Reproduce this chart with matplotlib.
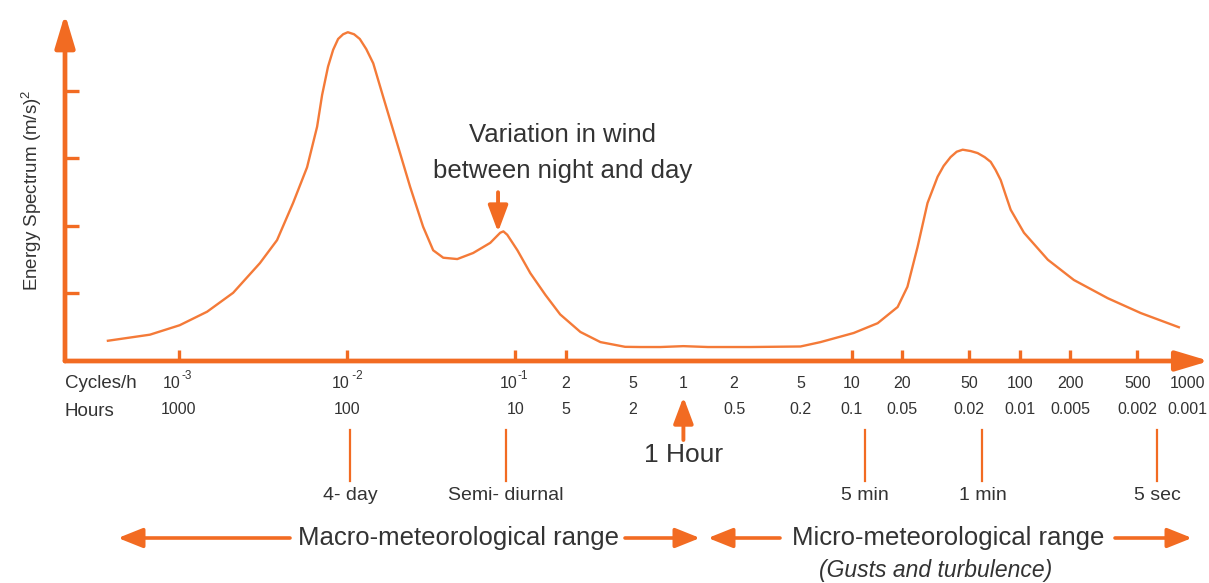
import matplotlib
matplotlib.use('Agg')
import matplotlib.pyplot as plt
from matplotlib import transforms
from matplotlib.patches import FancyArrowPatch

plt.rcParams['font.family'] = ['Liberation Sans', 'DejaVu Sans']
plt.rcParams['mathtext.fontset'] = 'custom'
plt.rcParams['mathtext.rm'] = 'Liberation Sans'

orange = '#f26b22'
curve_col = '#f47a38'
ink = '#333333'

# wind energy spectrum (cycles per hour, arbitrary energy)
freq = [3.78e-4, 6.72e-4, 1.01e-3, 1.47e-3, 2.10e-3, 3.03e-3, 3.83e-3, 4.77e-3,
        5.78e-3, 6.63e-3, 7.10e-3, 7.70e-3, 8.26e-3, 8.84e-3, 9.47e-3, 1.01e-2,
        1.10e-2, 1.19e-2, 1.30e-2, 1.43e-2, 1.64e-2, 1.98e-2, 2.37e-2, 2.83e-2,
        3.25e-2, 3.73e-2, 4.52e-2, 5.62e-2, 7.10e-2, 8.14e-2, 8.5e-2, 8.96e-2,
        0.103, 0.123, 0.151, 0.185, 0.244, 0.321, 0.45, 0.555, 0.73, 1.0, 1.4,
        2.5, 4.97, 6.54, 10.3, 14.3, 18.8, 21.5, 24.7, 28.3, 32.5, 35.3, 38.8,
        42.2, 45.8, 51.1, 56.2, 61.9, 67.2, 71.9, 77.1, 82.5, 88.4, 106, 147,
        210, 334, 525, 884]
energy = [0.30, 0.39, 0.53, 0.73, 1.01, 1.45, 1.79, 2.34,
          2.87, 3.47, 3.94, 4.36, 4.61, 4.77, 4.84, 4.87,
          4.84, 4.77, 4.62, 4.41, 3.91, 3.23, 2.58, 1.99,
          1.64, 1.53, 1.51, 1.60, 1.75, 1.90, 1.92, 1.87,
          1.64, 1.30, 0.98, 0.69, 0.43, 0.28, 0.21, 0.207, 0.207, 0.22, 0.207,
          0.207, 0.215, 0.28, 0.415, 0.56, 0.80, 1.10, 1.69, 2.34, 2.73, 2.89, 3.02,
          3.10, 3.13, 3.11, 3.08, 3.02, 2.95, 2.83, 2.68, 2.46, 2.24, 1.90, 1.50,
          1.20, 0.93, 0.71, 0.50]

tick_freq = [1e-3, 1e-2, 1e-1, 0.2, 10, 20, 50, 100, 200, 500]
energy_ticks = [1, 2, 3, 4]

# cycles/h row: (base, exponent); exponent empty for plain numbers
label_freq = [1e-3, 1e-2, 1e-1, 0.2, 0.5, 1, 2, 5, 10, 20, 50, 100, 200, 500, 1000]
cycle_labels = [('10', '-3'), ('10', ' -2'), ('10', '-1'), ('2', ''), ('5', ''),
                ('1', ''), ('2', ''), ('5', ''), ('10', ''), ('20', ''), ('50', ''),
                ('100', ''), ('200', ''), ('500', ''), ('1000', '')]
hour_labels = ['1000', '100', '10', '5', '2', '', '0.5', '0.2', '0.1', '0.05',
               '0.02', '0.01', '0.005', '0.002', '0.001']

period_freq = [0.0104, 0.088, 12, 60, 660]
period_labels = ['4- day', 'Semi- diurnal', '5 min', '1 min', '5 sec']

W, H = 1209, 583


def fy(py):
    # figure fraction from a pixel row counted from the top
    return 1 - py / H


fig = plt.figure(figsize=(W / 100, H / 100), dpi=100)
ax = fig.add_axes([65 / W, fy(361), (1207 - 65) / W, (361 - 14) / H])
ax.set_xscale('log')

ax.plot(freq, energy, color=curve_col, lw=1.7, solid_joinstyle='round')

ax.set_xlim(2.1e-4, 1.3e3)
ax.set_ylim(0, 5.14)
for s in ax.spines.values():
    s.set_visible(False)
ax.minorticks_off()
ax.set_xticks(tick_freq)
ax.set_xticklabels([])
ax.set_yticks(energy_ticks)
ax.set_yticklabels([])
ax.tick_params(axis='x', direction='in', length=8, width=2.4, color=orange)
ax.tick_params(axis='y', direction='in', length=10, width=2.4, color=orange)

axis_arrow = dict(arrowstyle='-|>,head_length=2.0,head_width=0.6', color=orange,
                  lw=3.4, shrinkA=0, shrinkB=0)
ax.annotate('', xy=(0, 1), xytext=(0, 0), xycoords='axes fraction',
            arrowprops=axis_arrow, annotation_clip=False)
ax.annotate('', xy=(1.002, 0), xytext=(0, 0), xycoords='axes fraction',
            arrowprops=axis_arrow, annotation_clip=False)

fig.text(32 / W, fy(190), 'Energy Spectrum (m/s)$^2$', rotation=90, fontsize=13.5,
         color=ink, ha='center', va='center')

# labels under the axis
trans = transforms.blended_transform_factory(ax.transData, fig.transFigure)
fig.text(65 / W, fy(383), 'Cycles/h', fontsize=13.5, color=ink, va='center')
fig.text(65 / W, fy(411), 'Hours', fontsize=13.5, color=ink, va='center')
for f, (base, expo), h in zip(label_freq, cycle_labels, hour_labels):
    if expo:
        ax.annotate(base, xy=(f, fy(383)), xycoords=trans, xytext=(-5, 0),
                    textcoords='offset points', ha='center', va='center',
                    fontsize=11.5, color=ink, annotation_clip=False)
        ax.annotate(expo, xy=(f, fy(383)), xycoords=trans, xytext=(1.5, 5),
                    textcoords='offset points', ha='left', va='center',
                    fontsize=8.5, color=ink, annotation_clip=False)
    else:
        ax.text(f, fy(383), base, transform=trans, ha='center', va='center',
                fontsize=11.5, color=ink, clip_on=False)
    ax.text(f, fy(410), h, transform=trans, ha='center', va='center',
            fontsize=11.5, color=ink, clip_on=False)

for f, lab in zip(period_freq, period_labels):
    ax.plot([f, f], [fy(430), fy(481)], transform=trans, color=orange,
            lw=1.6, clip_on=False)
    ax.text(f, fy(496), lab, transform=trans, ha='center', va='center',
            fontsize=14, color=ink, clip_on=False)

small_arrow = dict(arrowstyle='-|>,head_length=1.6,head_width=0.6', color=orange,
                   lw=2.8, shrinkA=0, shrinkB=0)

# diurnal peak annotation
ax.text(0.19, 3.08, 'Variation in wind\nbetween night and day', ha='center',
        va='center', fontsize=18.5, color=ink, linespacing=1.6)
ax.annotate('', xy=(0.079, 1.91), xytext=(0.079, 2.50), arrowprops=small_arrow)

# one hour marker
ax.annotate('', xy=(1, fy(397)), xytext=(1, fy(440)), xycoords=trans,
            textcoords=trans, arrowprops=small_arrow, annotation_clip=False)
ax.text(1, fy(455), '1 Hour', transform=trans, ha='center', va='center',
        fontsize=19, color=ink, clip_on=False)

# range arrows
range_arrow = dict(arrowstyle='-|>,head_length=1.5,head_width=0.6', color=orange,
                   lw=2.6, shrinkA=0, shrinkB=0)
yr = fy(538)
for tail, tip in [(290, 118), (625, 700), (780, 708), (1115, 1192)]:
    fig.add_artist(FancyArrowPatch((tail / W, yr), (tip / W, yr),
                                   transform=fig.transFigure, mutation_scale=10,
                                   **range_arrow))
fig.text(459 / W, yr, 'Macro-meteorological range', ha='center', va='center',
         fontsize=18.5, color=ink)
fig.text(948 / W, yr, 'Micro-meteorological range', ha='center', va='center',
         fontsize=18.5, color=ink)
fig.text(936 / W, fy(571), '(Gusts and turbulence)', ha='center', va='center',
         fontsize=16.5, style='italic', color=ink)

fig.savefig('out.png', dpi=100)
